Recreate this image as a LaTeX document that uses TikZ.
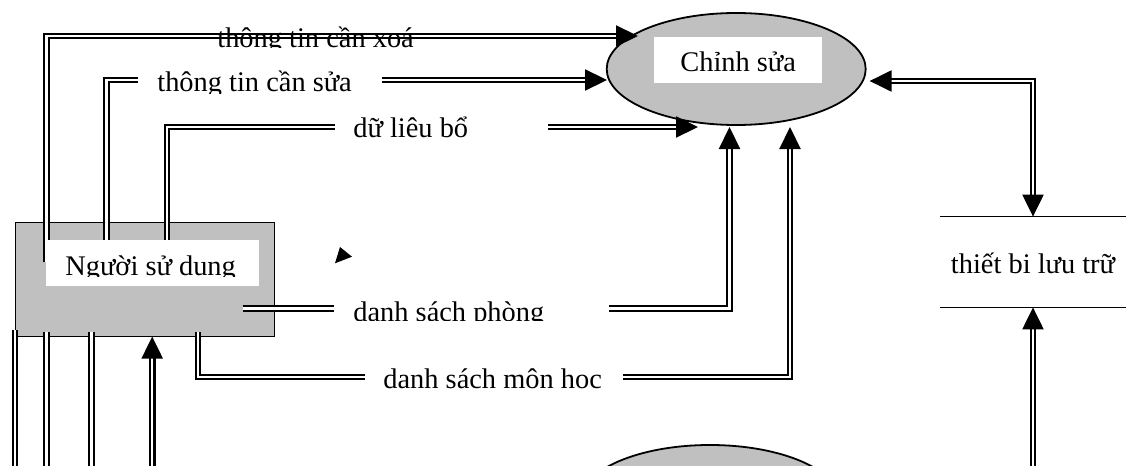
\documentclass[tikz,border=0pt]{standalone}
\usepackage{fontspec}
\setmainfont{Liberation Serif}
\usetikzlibrary{arrows.meta,shapes.geometric}
\definecolor{boxgray}{HTML}{C0C0C0}
\begin{document}
\begin{tikzpicture}[x=0.5pt,y=-0.5pt,
  flow/.style={draw=black, double=white, double distance=1.2pt, line width=1.1pt},
  tipend/.style={-{Triangle[length=11pt,width=10.5pt]}},
  tipboth/.style={{Triangle[length=11pt,width=10.5pt]}-{Triangle[length=11pt,width=10.5pt]}},
  txt/.style={inner sep=0pt, font=\fontsize{14.2}{17}\selectfont},
  entitybox/.style={rectangle, draw=black, fill=boxgray, line width=0.5pt, inner sep=0pt},
  procell/.style={ellipse, draw=black, fill=boxgray, line width=0.9pt, inner sep=0pt},
  whitebox/.style={rectangle, fill=white, inner sep=0pt},
  storeline/.style={draw=black, line width=0.6pt}]
\useasboundingbox (0,0) rectangle (1126,466);
\clip (0,0) rectangle (1126,466);

% ---- main shapes ----
\node[procell, minimum width=129.5pt, minimum height=56pt] (edit) at (736.2,69) {};
\node[procell, minimum width=129.5pt, minimum height=56pt] (other) at (710,501) {};
\node[entitybox, minimum width=129.5pt, minimum height=56.65pt] (user) at (144.5,279.4) {};
\node[inner sep=0pt, minimum width=93pt, minimum height=45pt] (store) at (1033,262) {};
\draw[storeline] (store.north west) -- (store.north east);
\draw[storeline] (store.south west) -- (store.south east);

% ---- connector end points ----
\coordinate (xoaS) at (46.5,262);
\coordinate (xoaT) at (638,36);
\coordinate (suaS) at (106.5,240);
\coordinate (suaT) at (607,80);
\coordinate (boS) at (167,240);
\coordinate (boT) at (698,127);
\coordinate (phS) at (243,308.5);
\coordinate (phT) at (729.5,127);
\coordinate (mhS) at (198,332);
\coordinate (mhC) at (790,377);
\coordinate (mhT) at (790,127);
\coordinate (stA) at (867,81);
\coordinate (stC) at (1033,81);
\coordinate (stB) at (1033,470);
\coordinate (b1) at (15,330);
\coordinate (b1e) at (15,470);
\coordinate (b2) at (46.3,332);
\coordinate (b2e) at (46.3,470);
\coordinate (b3) at (91.5,332);
\coordinate (b3e) at (91.5,470);
\coordinate (b4) at (152.2,470);

% ---- connectors ----
\draw[flow,tipend] (xoaS) |- (xoaT);
\draw[flow,tipend] (suaS) |- (suaT);
\draw[flow,tipend] (boS) |- (boT);
\draw[flow,tipend] (phS) -| (phT);
\draw[flow,tipend] (mhS) |- (mhC) -- (mhT);
\draw[flow,tipboth] (edit.east |- stA) ++(3,0) -- (stC) -- (store.north);
\draw[flow,tipend] (stB) -- (store.south);
\draw[flow] (b1) -- (b1e);
\draw[flow] (b2) -- (b2e);
\draw[flow] (b3) -- (b3e);
\draw[flow,tipend] (b4) -- (user.south -| b4);

% stray arrowhead
\fill[black] (340,247) -- (352,256.7) -- (335,263.3) -- cycle;

% ---- labels ----
\node[whitebox, minimum width=106.5pt, minimum height=23pt] (userbg) at (152.5,263) {};
\begin{scope}
  \clip (46,240) rectangle (259,276.5);
  \node[txt, anchor=base west] (userlbl) at (65,275.5) {Người sử dung};
\end{scope}

\node[whitebox, minimum width=84pt, minimum height=23pt] (editbg) at (738,60) {};
\node[txt, anchor=base west] (editlbl) at (680,71) {Chỉnh sửa};

\node[txt, anchor=base] (storelbl) at (1033,273) {thiết bi lưu trữ};

\begin{scope}
  \clip (200,15) rectangle (430,47);
  \node[txt, anchor=base west] (xoalbl) at (217,47.3) {thông tin cần xoá};
\end{scope}

\begin{scope}
  \clip (138,60) rectangle (382,93);
  \fill[white] (138,60) rectangle (382,93);
  \node[txt, anchor=base west] (sualbl) at (157,91.3) {thông tin cần sửa};
\end{scope}

\begin{scope}
  \clip (335,105) rectangle (548,138.3);
  \fill[white] (335,105) rectangle (548,138.3);
  \node[txt, anchor=base west] (bolbl) at (353,137.3) {dữ liêu bổ};
\end{scope}

\begin{scope}
  \clip (334,292) rectangle (609,320.5);
  \fill[white] (334,292) rectangle (609,320.5);
  \node[txt, anchor=base west] (phlbl) at (353,321.3) {danh sách phòng};
\end{scope}

\begin{scope}
  \clip (365,358) rectangle (623,389);
  \fill[white] (365,358) rectangle (623,389);
  \node[txt, anchor=base west] (mhlbl) at (383,388) {danh sách môn hoc};
\end{scope}
\end{tikzpicture}
\end{document}
